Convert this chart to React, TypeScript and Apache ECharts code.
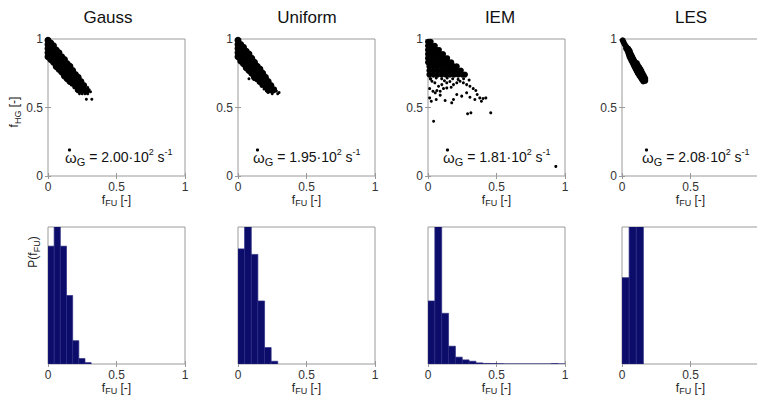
import React, { useEffect, useRef } from "react";
import * as echarts from "echarts";

// ---------- data ----------
const panelNames = ["Gauss", "Uniform", "IEM", "LES"];
const omegaValues = ["2.00", "1.95", "1.81", "2.08"];

// scatter: dense cores (large markers) and sparse points (small markers)
const gaussCore: number[][] = [
  [0, 0.99], [0, 0.96], [0, 0.93], [0, 0.9], [0, 0.87],
  [0.02, 0.97], [0.02, 0.94], [0.02, 0.91], [0.02, 0.88], [0.02, 0.85],
  [0.04, 0.95], [0.04, 0.92], [0.04, 0.89], [0.04, 0.86], [0.04, 0.83],
  [0.06, 0.92], [0.06, 0.89], [0.06, 0.86], [0.06, 0.83], [0.06, 0.8],
  [0.08, 0.9], [0.08, 0.87], [0.08, 0.84], [0.08, 0.81], [0.08, 0.78],
  [0.1, 0.87], [0.1, 0.84], [0.1, 0.81], [0.1, 0.78], [0.1, 0.76],
  [0.12, 0.85], [0.12, 0.82], [0.12, 0.79], [0.12, 0.76], [0.12, 0.73],
  [0.14, 0.82], [0.14, 0.79], [0.14, 0.76], [0.14, 0.73], [0.14, 0.71],
  [0.16, 0.8], [0.16, 0.77], [0.16, 0.74], [0.16, 0.71], [0.16, 0.69],
  [0.18, 0.77], [0.18, 0.74], [0.18, 0.71], [0.18, 0.68],
  [0.2, 0.74], [0.2, 0.71], [0.2, 0.68], [0.2, 0.66],
  [0.22, 0.72], [0.22, 0.69], [0.22, 0.66], [0.22, 0.63],
  [0.24, 0.69], [0.24, 0.66], [0.24, 0.63],
  [0.26, 0.66], [0.26, 0.63],
  [0.28, 0.62],
];
const gaussSparse: number[][] = [
  [0.01, 0.985], [0.03, 0.955], [0.05, 0.935], [0.07, 0.91], [0.09, 0.885], [0.11, 0.86],
  [0.13, 0.835], [0.15, 0.815], [0.17, 0.79], [0.19, 0.765], [0.21, 0.745], [0.23, 0.72],
  [0.25, 0.695], [0.27, 0.67], [0.29, 0.645], [0.3, 0.63],
  [0.01, 0.85], [0.03, 0.83], [0.05, 0.8], [0.07, 0.78], [0.09, 0.755], [0.11, 0.735],
  [0.13, 0.71], [0.15, 0.69], [0.17, 0.665], [0.19, 0.645], [0.21, 0.625], [0.23, 0.6], [0.25, 0.6],
  [0.28, 0.56], [0.32, 0.56], [0.27, 0.6], [0.29, 0.6], [0.31, 0.615],
];

const uniformCore: number[][] = [
  [0, 0.99], [0, 0.96], [0, 0.93], [0, 0.9], [0, 0.87],
  [0.02, 0.96], [0.02, 0.93], [0.02, 0.9], [0.02, 0.87], [0.02, 0.84],
  [0.04, 0.94], [0.04, 0.91], [0.04, 0.88], [0.04, 0.85], [0.04, 0.82],
  [0.06, 0.91], [0.06, 0.88], [0.06, 0.85], [0.06, 0.82], [0.06, 0.79],
  [0.08, 0.89], [0.08, 0.86], [0.08, 0.83], [0.08, 0.8], [0.08, 0.77],
  [0.1, 0.86], [0.1, 0.83], [0.1, 0.8], [0.1, 0.77], [0.1, 0.75],
  [0.12, 0.83], [0.12, 0.8], [0.12, 0.77], [0.12, 0.74], [0.12, 0.72],
  [0.14, 0.8], [0.14, 0.77], [0.14, 0.74], [0.14, 0.71],
  [0.16, 0.78], [0.16, 0.75], [0.16, 0.72], [0.16, 0.69],
  [0.18, 0.75], [0.18, 0.72], [0.18, 0.69], [0.18, 0.67],
  [0.2, 0.72], [0.2, 0.69], [0.2, 0.66],
  [0.22, 0.69], [0.22, 0.66], [0.22, 0.63],
  [0.24, 0.66], [0.24, 0.63],
  [0.26, 0.63],
];
const uniformSparse: number[][] = [
  [0.01, 0.985], [0.03, 0.95], [0.05, 0.93], [0.07, 0.9], [0.09, 0.875], [0.11, 0.85],
  [0.13, 0.82], [0.15, 0.795], [0.17, 0.77], [0.19, 0.74], [0.21, 0.715], [0.23, 0.69],
  [0.25, 0.665], [0.27, 0.64],
  [0.01, 0.84], [0.03, 0.815], [0.05, 0.79], [0.07, 0.77], [0.09, 0.745], [0.11, 0.72],
  [0.13, 0.7], [0.15, 0.68], [0.17, 0.655], [0.19, 0.635], [0.21, 0.62],
  [0.08, 0.71], [0.3, 0.61], [0.22, 0.61], [0.25, 0.6], [0.28, 0.62], [0.27, 0.64], [0.29, 0.6],
];

const iemCore: number[][] = [
  [0, 0.98], [0.02, 0.98],
  [0, 0.95], [0.03, 0.95], [0.05, 0.95],
  [0, 0.92], [0.03, 0.92], [0.06, 0.92], [0.08, 0.92],
  [0, 0.89], [0.03, 0.89], [0.06, 0.89], [0.09, 0.89], [0.11, 0.89],
  [0, 0.86], [0.03, 0.86], [0.06, 0.86], [0.09, 0.86], [0.12, 0.86], [0.14, 0.86],
  [0, 0.83], [0.03, 0.83], [0.06, 0.83], [0.09, 0.83], [0.12, 0.83], [0.15, 0.83], [0.17, 0.83],
  [0.01, 0.8], [0.04, 0.8], [0.07, 0.8], [0.1, 0.8], [0.13, 0.8], [0.16, 0.8], [0.19, 0.8], [0.21, 0.8],
  [0.01, 0.77], [0.04, 0.77], [0.07, 0.77], [0.1, 0.77], [0.13, 0.77], [0.16, 0.77], [0.19, 0.77], [0.22, 0.77], [0.24, 0.77],
  [0.01, 0.74], [0.04, 0.74], [0.07, 0.74], [0.1, 0.74], [0.13, 0.74], [0.16, 0.74], [0.19, 0.74], [0.22, 0.74], [0.25, 0.74], [0.27, 0.74],
];
const iemSparse: number[][] = [
  [0.02, 0.71], [0.06, 0.715], [0.1, 0.71], [0.14, 0.715], [0.18, 0.71], [0.22, 0.705], [0.26, 0.71], [0.3, 0.7],
  [0.017, 0.709], [0.029, 0.692], [0.012, 0.638], [0.036, 0.619], [0.053, 0.607], [0.065, 0.624],
  [0.089, 0.619], [0.113, 0.638], [0.137, 0.643], [0.169, 0.648], [0.186, 0.667], [0.21, 0.68],
  [0.234, 0.692], [0.258, 0.68], [0.282, 0.667], [0.306, 0.655], [0.33, 0.638], [0.349, 0.624],
  [0.359, 0.595], [0.378, 0.57], [0.402, 0.566], [0.422, 0.57], [0.39, 0.546], [0.342, 0.558],
  [0.306, 0.575], [0.282, 0.607], [0.246, 0.583], [0.21, 0.595], [0.186, 0.558], [0.173, 0.534],
  [0.125, 0.551], [0.089, 0.59], [0.06, 0.558], [0.024, 0.546], [0.012, 0.57],
  [0.137, 0.68], [0.101, 0.667], [0.077, 0.655], [0.05, 0.68], [0.16, 0.69], [0.12, 0.695],
  [0.289, 0.454], [0.313, 0.461], [0.458, 0.461], [0.041, 0.4], [0.933, 0.07],
];

const lesCore: number[][] = [
  [0.005, 0.99], [0.012, 0.975], [0.02, 0.96], [0.03, 0.945],
  [0.03, 0.93], [0.045, 0.93],
  [0.04, 0.915], [0.055, 0.915],
  [0.045, 0.9], [0.06, 0.9],
  [0.05, 0.885], [0.068, 0.885],
  [0.055, 0.87], [0.075, 0.87],
  [0.062, 0.855], [0.082, 0.855],
  [0.07, 0.84], [0.09, 0.84],
  [0.078, 0.825], [0.098, 0.825], [0.108, 0.825],
  [0.085, 0.81], [0.1, 0.81], [0.115, 0.81],
  [0.092, 0.795], [0.11, 0.795], [0.125, 0.795],
  [0.1, 0.78], [0.12, 0.78], [0.135, 0.78],
  [0.108, 0.765], [0.127, 0.765], [0.142, 0.765],
  [0.115, 0.75], [0.135, 0.75], [0.15, 0.75],
  [0.125, 0.735], [0.142, 0.735], [0.158, 0.735],
  [0.135, 0.72], [0.15, 0.72], [0.165, 0.72],
  [0.145, 0.705], [0.16, 0.705], [0.17, 0.71],
  [0.155, 0.69], [0.17, 0.695],
];

// histograms: bin edges and bar heights (relative to the axis top)
const gaussEdges = [0, 0.045, 0.09, 0.135, 0.18, 0.225, 0.27, 0.315];
const gaussHeights = [0.86, 1.1, 0.86, 0.5, 0.17, 0.04, 0.01];
const uniformEdges = [0, 0.048, 0.097, 0.145, 0.194, 0.242, 0.29];
const uniformHeights = [0.84, 1.1, 0.8, 0.46, 0.12, 0.02];
const iemEdges = [0, 0.05, 0.1, 0.15, 0.2, 0.25, 0.3, 0.35, 0.4, 0.45, 0.5, 0.55, 0.6, 0.65, 0.7, 0.75, 0.8, 0.85, 0.9, 0.95, 1.0];
const iemHeights = [0.46, 1.1, 0.37, 0.13, 0.05, 0.03, 0.02, 0.008, 0.004, 0.003, 0.002, 0, 0, 0, 0, 0, 0, 0, 0.003, 0];
const lesEdges = [0, 0.052, 0.104, 0.156];
const lesHeights = [0.63, 1.1, 1.1];

// ---------- layout ----------
const FONT = "Liberation Sans, Arial, Helvetica, sans-serif";
const gridLefts = [48, 238, 428, 622];
const GW = 137;
const TOP1 = 39;
const TOP2 = 227;
const GH = 137;
const titleX = [108, 307, 500, 691];
const annotX = [65, 253, 443, 642];

const coreSets = [gaussCore, uniformCore, iemCore, lesCore];
const sparseSets = [gaussSparse, uniformSparse, iemSparse, []];
const coreSizes = [7, 7, 6, 6];
const edgeSets = [gaussEdges, uniformEdges, iemEdges, lesEdges];
const heightSets = [gaussHeights, uniformHeights, iemHeights, lesHeights];

const axisNameRich = {
  n: { fontSize: 12, color: "#222", fontFamily: FONT, lineHeight: 16 },
  s: { fontSize: 9, color: "#222", fontFamily: FONT, lineHeight: 6, verticalAlign: "bottom" },
};

export default function App() {
  const ref = useRef<HTMLDivElement>(null);
  useEffect(() => {
    document.body.style.margin = "0";
    const chart = echarts.init(ref.current!, null, { renderer: "svg" });

    const grids: any[] = [];
    const xAxes: any[] = [];
    const yAxes: any[] = [];
    const series: any[] = [];
    const tick = { show: true, inside: true, length: 3, lineStyle: { color: "#999" } };

    for (let row = 0; row < 2; row++) {
      for (let c = 0; c < 4; c++) {
        const gi = row * 4 + c;
        grids.push({
          left: gridLefts[c],
          top: row === 0 ? TOP1 : TOP2,
          width: GW,
          height: GH,
          show: true,
          borderColor: "#9a9a9a",
          borderWidth: 1,
          backgroundColor: "#fff",
          containLabel: false,
          outerBoundsMode: "none",
        });
        const lastCol = c === 3;
        xAxes.push({
          type: "value",
          gridIndex: gi,
          position: "bottom",
          min: 0,
          max: 1,
          interval: 0.5,
          axisLine: { show: false },
          axisTick: tick,
          splitLine: { show: false },
          axisLabel: {
            fontSize: 12,
            color: "#333",
            fontFamily: FONT,
            margin: 5,
            // the right-most panel is cut by the page edge: its "1" is not visible
            formatter: (v: number) => (lastCol && v === 1 ? "" : String(v)),
          },
          name: "{n|f}{s|FU}{n| [-]}",
          nameLocation: "middle",
          nameGap: row === 0 ? 12 : 14,
          nameTextStyle: { rich: axisNameRich },
        });
        // top-side ticks (box ticks)
        xAxes.push({
          type: "value",
          gridIndex: gi,
          position: "top",
          min: 0,
          max: 1,
          interval: 0.5,
          axisLine: { show: false },
          axisTick: tick,
          splitLine: { show: false },
          axisLabel: { show: false },
        });
        yAxes.push({
          type: "value",
          gridIndex: gi,
          position: "left",
          min: 0,
          max: 1,
          interval: 0.5,
          axisLine: { show: false },
          axisTick: { ...tick, show: row === 0 },
          splitLine: { show: false },
          axisLabel: { show: row === 0, fontSize: 12, color: "#333", fontFamily: FONT, margin: 5 },
        });
        yAxes.push({
          type: "value",
          gridIndex: gi,
          position: "right",
          min: 0,
          max: 1,
          interval: 0.5,
          axisLine: { show: false },
          axisTick: { ...tick, show: row === 0 },
          splitLine: { show: false },
          axisLabel: { show: false },
        });
        const xi = gi * 2;
        const yi = gi * 2;
        if (row === 0) {
          series.push({
            type: "scatter",
            xAxisIndex: xi,
            yAxisIndex: yi,
            data: coreSets[c],
            symbol: "circle",
            symbolSize: coreSizes[c],
            itemStyle: { color: "#000", opacity: 1 },
            silent: true,
          });
          series.push({
            type: "scatter",
            xAxisIndex: xi,
            yAxisIndex: yi,
            data: sparseSets[c],
            symbol: "circle",
            symbolSize: 3,
            itemStyle: { color: "#000", opacity: 1 },
            silent: true,
          });
        } else {
          const edges = edgeSets[c];
          const data = heightSets[c].map((h, i) => [edges[i], edges[i + 1], h]);
          series.push({
            type: "custom",
            xAxisIndex: xi,
            yAxisIndex: yi,
            clip: true,
            silent: true,
            encode: { x: [0, 1], y: 2 },
            data,
            renderItem: (params: any, api: any) => {
              const p0 = api.coord([api.value(0), 0]);
              const p1 = api.coord([api.value(1), api.value(2)]);
              return {
                type: "rect",
                shape: { x: p0[0], y: p1[1], width: p1[0] - p0[0], height: p0[1] - p1[1] },
                style: { fill: "#0c0c6a", stroke: "#2b2b82", lineWidth: 0.7 },
              };
            },
          });
        }
      }
    }

    const graphics: any[] = [];
    panelNames.forEach((name, c) => {
      graphics.push({
        type: "text",
        x: titleX[c],
        y: 17,
        style: { text: name, font: `17px ${FONT}`, fill: "#111", align: "center", verticalAlign: "middle" },
      });
      graphics.push({
        type: "text",
        x: annotX[c],
        y: 157,
        style: {
          text: `{w|ω}{s|G}{n| = ${omegaValues[c]}·10}{p|2}{n| s}{p|-1}`,
          align: "left",
          verticalAlign: "middle",
          rich: {
            w: { fontSize: 15, fontFamily: FONT, fill: "#111", lineHeight: 20 },
            n: { fontSize: 14, fontFamily: FONT, fill: "#111", lineHeight: 20 },
            s: { fontSize: 11, fontFamily: FONT, fill: "#111", lineHeight: 9, verticalAlign: "bottom" },
            p: { fontSize: 9, fontFamily: FONT, fill: "#111", lineHeight: 9, verticalAlign: "top" },
          },
        },
      });
      graphics.push({
        type: "circle",
        shape: { cx: annotX[c] + 4.5, cy: 150, r: 1.6 },
        style: { fill: "#000" },
      });
    });
    graphics.push({
      type: "text",
      x: 14,
      y: 112,
      rotation: Math.PI / 2,
      style: {
        text: "{n|f}{s|HG}{n| [-]}",
        align: "center",
        verticalAlign: "middle",
        rich: {
          n: { fontSize: 12, fill: "#222", fontFamily: FONT, lineHeight: 16 },
          s: { fontSize: 9, fill: "#222", fontFamily: FONT, lineHeight: 6, verticalAlign: "bottom" },
        },
      },
    });
    graphics.push({
      type: "text",
      x: 33,
      y: 252,
      rotation: Math.PI / 2,
      style: {
        text: "{n|P(f}{s|FU}{n|)}",
        align: "center",
        verticalAlign: "middle",
        rich: {
          n: { fontSize: 12, fill: "#222", fontFamily: FONT, lineHeight: 16 },
          s: { fontSize: 9, fill: "#222", fontFamily: FONT, lineHeight: 6, verticalAlign: "bottom" },
        },
      },
    });

    chart.setOption({
      animation: false,
      backgroundColor: "#fff",
      grid: grids,
      xAxis: xAxes,
      yAxis: yAxes,
      series,
      graphic: graphics,
    });
    return () => chart.dispose();
  }, []);

  return (
    <div
      ref={ref}
      style={{ position: "fixed", left: 0, top: 0, width: 757, height: 400 }}
    />
  );
}
